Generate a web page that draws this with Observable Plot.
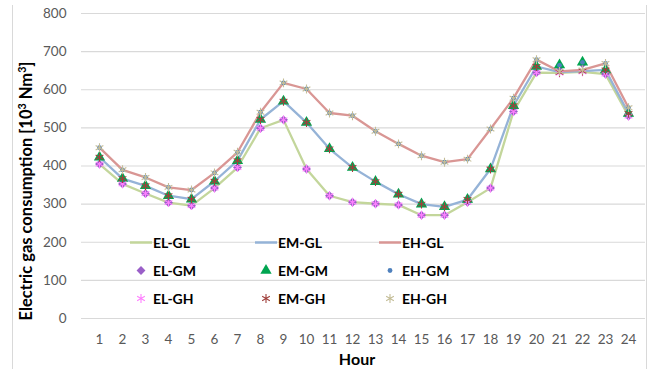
<!DOCTYPE html>
<html>
<head>
<meta charset="utf-8">
<script src="https://cdn.jsdelivr.net/npm/d3@7"></script>
<script src="https://cdn.jsdelivr.net/npm/@observablehq/plot@0.6"></script>
<style>
  html, body { margin: 0; padding: 0; background: #fff; }
  #wrap { position: relative; width: 654px; height: 369px; font-family: Lato, "Open Sans", sans-serif; overflow: hidden; }
  #wrap svg.plot { position: absolute; left: 0; top: 0; }
  .frame { position: absolute; top: 5px; bottom: 0; width: 1px; background: #d9d9d9; }
  .ytitle { position: absolute; left: 26px; top: 191px; transform: translate(-50%, -50%) rotate(-90deg); white-space: nowrap; font-weight: 700; font-size: 16.5px; color: #000; }
  .xtitle { position: absolute; left: 357px; top: 358px; transform: translate(-50%, -50%); font-weight: 700; font-size: 16px; color: #000; }
  .leg { position: absolute; display: flex; align-items: center; font-weight: 700; font-size: 14px; color: #000; transform: translateY(-50%); }
  .leg svg { display: block; margin-right: 1px; }
</style>
</head>
<body>
<div id="wrap"></div>
<script>
const hours = [1,2,3,4,5,6,7,8,9,10,11,12,13,14,15,16,17,18,19,20,21,22,23,24];
const yTicks = [0,100,200,300,400,500,600,700,800];

const elGL = [405,353,328,304,296,342,396,499,521,392,322,305,301,298,271,271,305,342,543,645,644,647,641,531];
const emGL = [423,367,348,322,313,360,414,522,570,514,445,396,359,326,300,293,312,392,558,661,646,649,652,538];
const ehGL = [448,390,370,344,337,382,436,541,618,602,539,532,491,458,427,410,418,497,578,679,648,652,669,553];

const elGM = [405,353,328,304,296,342,396,499,521,392,322,305,301,298,271,271,305,342,543,645,660,668,641,531];
const emGM = [423,367,348,322,313,360,414,522,570,514,445,396,359,326,300,293,312,392,558,661,665,672,652,538];
const ehGM = [448,390,370,344,337,382,436,541,618,602,539,532,491,458,427,410,418,497,578,679,664,672,669,553];

const elGH = [405,353,328,304,296,342,396,499,521,392,322,305,301,298,271,271,305,342,543,645,644,647,641,531];
const emGH = [423,367,348,322,313,360,414,522,570,514,445,396,359,326,300,293,312,392,558,661,646,649,652,538];
const ehGH = [448,390,370,344,337,382,436,541,618,602,539,532,491,458,427,410,418,497,578,679,648,652,669,553];

const lineSeries = [
  {name: "EL-GL", values: elGL, color: "#c3d69b"},
  {name: "EM-GL", values: emGL, color: "#95b3d7"},
  {name: "EH-GL", values: ehGL, color: "#d99694"}
];
const gmSeries = [
  {name: "EL-GM", values: elGM, color: "#9a5fc8", symbol: "diamond2", r: 4, fill: true},
  {name: "EM-GM", values: emGM, color: "#00a550", symbol: "triangle", r: 4.2, fill: true},
  {name: "EH-GM", values: ehGM, color: "#4f81bd", symbol: "circle", r: 2.4, fill: true}
];
const ghSeries = [
  {name: "EL-GH", values: elGH, color: "#ff80ff", symbol: "asterisk", r: 4.2, fill: false},
  {name: "EM-GH", values: emGH, color: "#a0403c", symbol: "asterisk", r: 4.2, fill: false},
  {name: "EH-GH", values: ehGH, color: "#c4bd97", symbol: "asterisk", r: 4.2, fill: false}
];

const toRows = s => hours.map((h, i) => ({hour: h, value: s.values[i]}));

const marks = [
  Plot.gridY(yTicks, {stroke: "#d9d9d9", strokeOpacity: 1, strokeWidth: 1.2}),
  Plot.axisY(yTicks, {tickSize: 0, tickPadding: 15, fill: "#595959", fontSize: 13.5, label: null}),
  Plot.axisX(hours, {tickSize: 0, tickPadding: 16, fill: "#595959", fontSize: 13.5, label: null})
];
for (const s of lineSeries) {
  marks.push(Plot.line(toRows(s), {x: "hour", y: "value", stroke: s.color, strokeWidth: 2.3}));
}
for (const s of [...gmSeries, ...ghSeries]) {
  marks.push(Plot.dot(toRows(s), {
    x: "hour", y: "value", symbol: s.symbol, r: s.r,
    fill: s.fill ? s.color : "none",
    stroke: s.fill ? "none" : s.color,
    strokeWidth: s.fill ? 0 : 1.1
  }));
}

const chart = Plot.plot({
  width: 654,
  height: 369,
  marginLeft: 81,
  marginRight: 9,
  marginTop: 13,
  marginBottom: 51,
  style: {fontFamily: "Lato, 'Open Sans', sans-serif", fontSize: "13.5px", background: "transparent"},
  x: {type: "point", domain: hours, padding: 0.5},
  y: {domain: [0, 800]},
  marks
});
chart.classList.add("plot");

const wrap = document.getElementById("wrap");
wrap.appendChild(chart);

// frame lines
for (const left of [12, 646]) {
  const f = document.createElement("div");
  f.className = "frame";
  f.style.left = left + "px";
  wrap.appendChild(f);
}

// titles
const yt = document.createElement("div");
yt.className = "ytitle";
yt.innerHTML = "Electric gas consumption [10<sup style='font-size:0.65em;vertical-align:0.55em;line-height:0'>3</sup> Nm<sup style='font-size:0.65em;vertical-align:0.55em;line-height:0'>3</sup>]";
wrap.appendChild(yt);
const xt = document.createElement("div");
xt.className = "xtitle";
xt.textContent = "Hour";
wrap.appendChild(xt);

// legend
const symMap = {diamond2: d3.symbolDiamond2, triangle: d3.symbolTriangle, circle: d3.symbolCircle, asterisk: d3.symbolAsterisk};
const colX = [130, 255, 379];
const rowY = [242, 270, 298];
function legendItem(s, col, row, isLine) {
  const d = document.createElement("div");
  d.className = "leg";
  d.style.left = colX[col] + "px";
  d.style.top = rowY[row] + "px";
  const ns = "http://www.w3.org/2000/svg";
  const svg = document.createElementNS(ns, "svg");
  svg.setAttribute("width", 22);
  svg.setAttribute("height", 14);
  if (isLine) {
    const l = document.createElementNS(ns, "line");
    l.setAttribute("x1", 0); l.setAttribute("x2", 22);
    l.setAttribute("y1", 7); l.setAttribute("y2", 7);
    l.setAttribute("stroke", s.color); l.setAttribute("stroke-width", 2.3);
    svg.appendChild(l);
  } else {
    const p = document.createElementNS(ns, "path");
    p.setAttribute("d", d3.symbol(symMap[s.symbol], Math.PI * s.r * s.r)());
    p.setAttribute("transform", "translate(11,7)");
    if (s.fill) { p.setAttribute("fill", s.color); }
    else { p.setAttribute("fill", "none"); p.setAttribute("stroke", s.color); p.setAttribute("stroke-width", 1.1); }
    svg.appendChild(p);
  }
  d.appendChild(svg);
  const t = document.createElement("span");
  t.textContent = s.name;
  d.appendChild(t);
  wrap.appendChild(d);
}
lineSeries.forEach((s, i) => legendItem(s, i, 0, true));
gmSeries.forEach((s, i) => legendItem(s, i, 1, false));
ghSeries.forEach((s, i) => legendItem(s, i, 2, false));
</script>
</body>
</html>
